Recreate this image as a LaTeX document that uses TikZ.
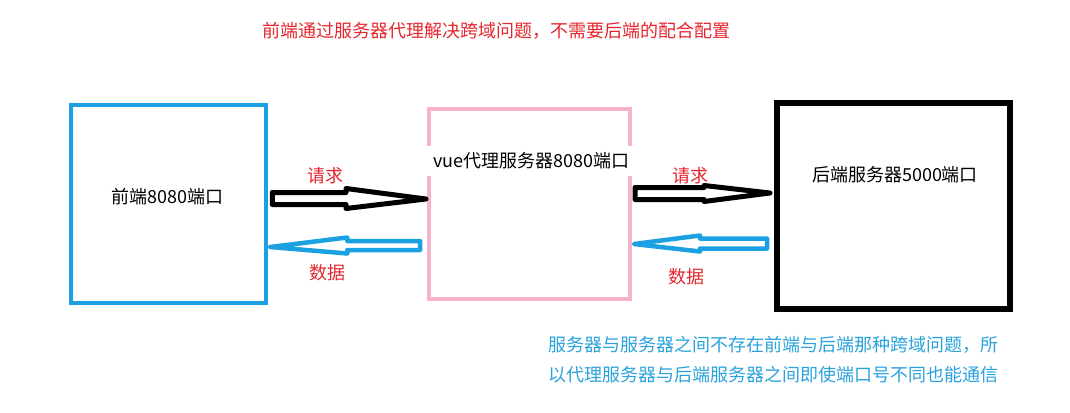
\documentclass[tikz,border=0pt]{standalone}
\usepackage{fontspec}
\setmainfont{Noto Sans CJK SC}
\usetikzlibrary{calc}
\definecolor{boxblue}{RGB}{27,161,226}
\definecolor{boxpink}{RGB}{246,178,202}
\definecolor{labred}{RGB}{230,38,46}
\definecolor{noteblue}{RGB}{42,163,220}
\newcommand\blockarr[6]{%
  \draw[#1] let \p1=#2, \p2=#3 in
    ({\x1},{\y1+#5}) -- ({\x2+(#4)},{\y1+#5}) -- ({\x2+(#4)},{\y1+#6}) -- (\p2)
    -- ({\x2+(#4)},{\y1-#6}) -- ({\x2+(#4)},{\y1-#5}) -- ({\x1},{\y1-#5}) -- cycle;}
\begin{document}
\begin{tikzpicture}[x=1pt,y=-1pt,
  txt/.style={font=\fontsize{18}{22}\selectfont,inner sep=0pt},
  box/.style={draw,rectangle,inner sep=0pt},
  reqarrow/.style={draw=black,line width=5pt,fill=white,line join=round},
  datarrow/.style={draw=boxblue,line width=4.5pt,fill=white,line join=round},
  lab/.style={txt,text=labred}]
\useasboundingbox[fill=white] (0,0) rectangle (1070,412);
% title
\node[lab] (title) at (496,31) {前端通过服务器代理解决跨域问题，不需要后端的配合配置};
% boxes
\node[box,draw=boxblue,line width=4.5pt,minimum width=195pt,minimum height=198pt] (fe) at (168.5,204) {};
\node[box,draw=boxpink,line width=4pt,minimum width=201pt,minimum height=190pt] (proxy) at (529.5,204) {};
\node[box,draw=black,line width=6pt,minimum width=233pt,minimum height=206pt] (be) at (893.5,206) {};
% box texts
\node[txt] (fetext) at (167.5,197) {前端8080端口};
\node[txt,fill=white,inner xsep=8pt,minimum height=30pt] (proxytext) at (531.5,161) {vue代理服务器8080端口};
\node[txt] (betext) at (895,175) {后端服务器5000端口};
% arrow end points
\coordinate (r1s) at ($(fe.east)+(4,-5.5)$);
\coordinate (r1e) at ($(proxy.west)+(-1,-5)$);
\coordinate (d1s) at ($(proxy.west)+(-7,41.5)$);
\coordinate (d1e) at ($(fe.east)+(2,43)$);
\coordinate (r2s) at ($(proxy.east)+(3,-10.5)$);
\coordinate (r2e) at ($(be.west)+(-4,-13)$);
\coordinate (d2s) at ($(be.west)+(-7,37.5)$);
\coordinate (d2e) at ($(proxy.east)+(2,40)$);
% arrows
\blockarr{reqarrow}{(r1s)}{(r1e)}{-80pt}{6pt}{10pt}
\blockarr{datarrow}{(d1s)}{(d1e)}{77pt}{4.5pt}{8pt}
\blockarr{reqarrow}{(r2s)}{(r2e)}{-66pt}{6pt}{8pt}
\blockarr{datarrow}{(d2s)}{(d2e)}{66pt}{5pt}{8pt}
% arrow labels
\node[lab] (req1) at (325,176) {请求};
\node[lab] (dat1) at (327,273) {数据};
\node[lab] (req2) at (690,176) {请求};
\node[lab] (dat2) at (686,277) {数据};
% note
\node[txt,text=noteblue,anchor=west] (note1) at (548,345) {服务器与服务器之间不存在前端与后端那种跨域问题，所};
\node[txt,text=noteblue,anchor=west] (note2) at (548,375) {以代理服务器与后端服务器之间即使端口号不同也能通信};
\end{tikzpicture}
\end{document}
